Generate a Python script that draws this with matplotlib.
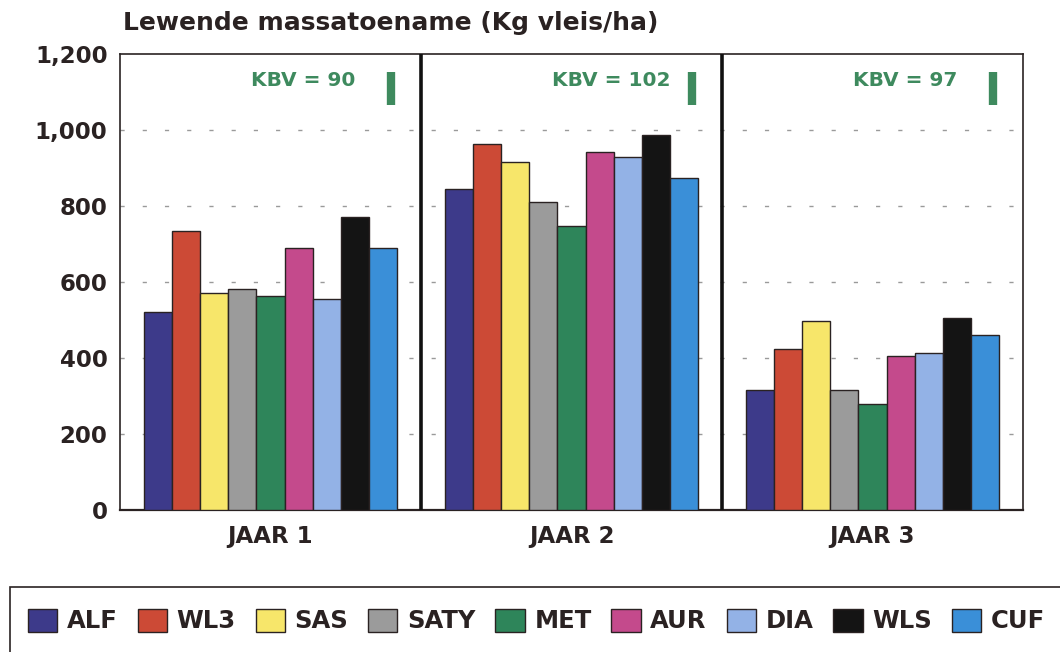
import numpy as np
import matplotlib.pyplot as plt
from matplotlib.patches import Rectangle

plt.rcParams['font.family'] = ['DejaVu Sans']
plt.rcParams['font.weight'] = 'bold'

# Data (kg vleis/ha)
years = ['JAAR 1', 'JAAR 2', 'JAAR 3']
cultivars = ['ALF', 'WL3', 'SAS', 'SATY', 'MET', 'AUR', 'DIA', 'WLS', 'CUF']
year1 = [522, 733, 572, 581, 563, 690, 554, 770, 690]
year2 = [844, 964, 917, 811, 748, 942, 929, 988, 874]
year3 = [316, 424, 498, 317, 280, 404, 413, 504, 460]
kbv = [90, 102, 97]
yticks = [0, 200, 400, 600, 800, 1000, 1200]

colors = ['#3d3a8a', '#cc4a36', '#f7e66a', '#9b9b9b', '#2e855a',
          '#c44a8c', '#93b2e6', '#141414', '#3a8fd8']
ink = '#2a2222'
green = '#3e8a5e'

values = np.array([year1, year2, year3])

fig = plt.figure(figsize=(10.6, 6.52), dpi=100)
ax = fig.add_axes([120 / 1060, 1 - 510 / 652, 903 / 1060, 456 / 652])

w = 0.0935
for j, name in enumerate(cultivars):
    x = np.arange(len(years)) + 0.5 + (j - 4) * w
    ax.bar(x, values[:, j], width=w, color=colors[j], edgecolor=ink,
           linewidth=1.0, label=name, zorder=3)

ax.set_xlim(0, 3)
ax.set_ylim(0, 1200)
ax.set_yticks(yticks)
ax.set_yticklabels([f'{v:,}' for v in yticks])
ax.set_xticks(np.arange(len(years)) + 0.5)
ax.set_xticklabels(years)
ax.tick_params(axis='both', length=0, labelsize=16.5, colors=ink)
ax.tick_params(axis='y', pad=9)
ax.tick_params(axis='x', pad=11)
for lab in ax.get_xticklabels() + ax.get_yticklabels():
    lab.set_fontweight('bold')

# dashed gridlines
for v in yticks[1:-1]:
    ax.axhline(v, color='#9a9a9a', lw=1.0, ls=(0, (3, 13)), zorder=1)

for s in ax.spines.values():
    s.set_color(ink)
    s.set_linewidth(1.2)
ax.spines['bottom'].set_linewidth(1.6)

# panel dividers
for i in range(1, len(years)):
    ax.axvline(i, color='#111111', lw=2.6, zorder=4)

# KBV labels with green markers
for i, k in enumerate(kbv):
    ax.text(i + 0.435, 1130, f'KBV = {k}', color=green, fontsize=14.5,
            fontweight='bold', ha='left', va='center')
    ax.plot([i + 0.9, i + 0.9], [1067, 1153], color=green, lw=6,
            solid_capstyle='butt', zorder=5)

fig.text(123 / 1060, 1 - 30 / 652, 'Lewende massatoename (Kg vleis/ha)',
         fontsize=18, fontweight='bold', color=ink, ha='left',
         va='baseline')

# legend
handles, labels = ax.get_legend_handles_labels()
leg = fig.legend(handles, labels, loc='center left',
                 bbox_to_anchor=(28 / 1060, 1 - 621 / 652), ncol=9,
                 frameon=False, fontsize=17.5, handlelength=1.2,
                 handleheight=1.1, handletextpad=0.4, columnspacing=0.82,
                 borderpad=0, borderaxespad=0)
for t in leg.get_texts():
    t.set_color(ink)
    t.set_fontweight('bold')
fig.patches.append(Rectangle((10 / 1060, -0.1), 1.1, (652 - 587) / 652 + 0.1,
                             transform=fig.transFigure, fill=False,
                             edgecolor=ink, lw=1.2))

fig.savefig('out.png', dpi=100)
